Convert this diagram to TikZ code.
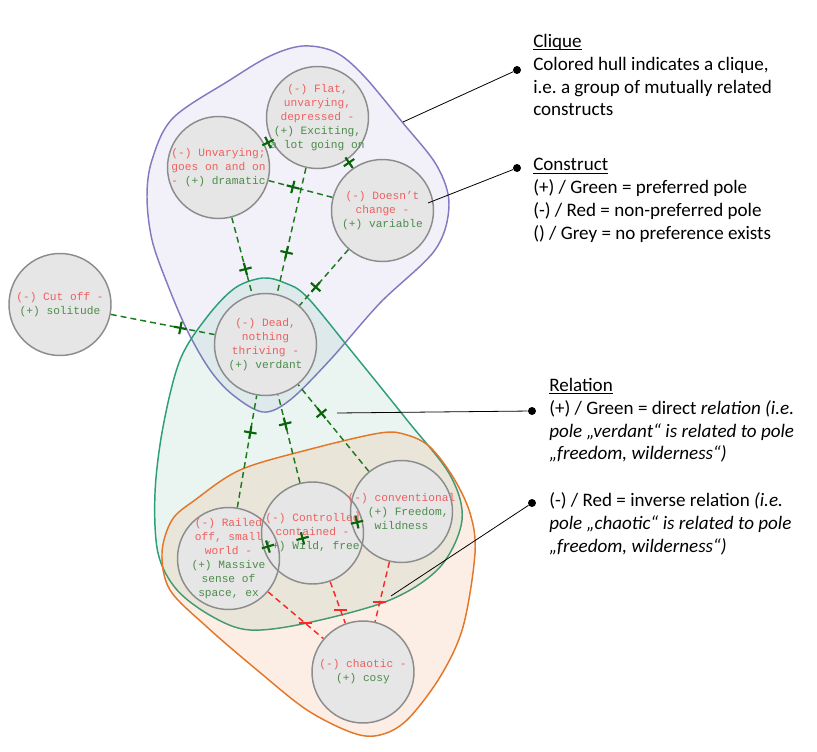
\documentclass[tikz,border=0pt]{standalone}
\usepackage{fontspec}
\setmainfont{Carlito}
\newfontfamily\cmono{Liberation Mono}
\usetikzlibrary{calc}
\pgfdeclarelayer{hulls}
\pgfdeclarelayer{edges}
\pgfdeclarelayer{outl}
\pgfdeclarelayer{txt}
\pgfdeclarelayer{marks}
\pgfsetlayers{hulls,edges,main,outl,txt,marks}

\definecolor{cfill}{RGB}{230,230,230}
\definecolor{cline}{RGB}{140,140,140}
\definecolor{tred}{RGB}{240,95,95}
\definecolor{tgreen}{RGB}{75,140,75}
\definecolor{egreen}{RGB}{30,120,30}
\definecolor{mgreen}{RGB}{10,100,10}
\definecolor{ered}{RGB}{250,40,40}
\definecolor{hpurple}{RGB}{130,122,192}
\definecolor{hgreen}{RGB}{45,158,122}
\definecolor{horange}{RGB}{228,118,40}

\newcommand\ulx[1]{\setbox0\hbox{#1}\rlap{\rule[-2pt]{\wd0}{0.8pt}}#1}
\newcommand\pplus{\makebox[0pt]{\rule[-4.75pt]{1.6pt}{9.5pt}}\makebox[0pt]{\rule[-0.8pt]{9.5pt}{1.6pt}}}
\newcommand\mminus{\rule[-0.8pt]{9.5pt}{1.6pt}}
\newcommand\rd[1]{\textcolor{tred}{#1}}
\newcommand\gr[1]{\textcolor{tgreen}{#1}}

\tikzset{
  construct/.style={circle, minimum size=76.5pt, inner sep=0pt, outer sep=0.55pt, fill=cfill},
  cout/.style={draw=cline, line width=1.1pt},
  ctext/.style={font=\cmono\fontsize{8.4pt}{10.5pt}\selectfont, align=center, inner sep=0pt},
  gedge/.style={draw=egreen, line width=1.1pt, dash pattern=on 4.5pt off 3pt},
  redge/.style={draw=ered, line width=1.1pt, dash pattern=on 4.5pt off 3pt},
  plusmark/.style={sloped, inner sep=0pt, text=mgreen, pos=0.67},
  minusmark/.style={inner sep=0pt, text=ered, pos=0.67},
  hull/.style={line width=1.1pt, fill opacity=0.1},
  legend/.style={font=\fontsize{14.3pt}{17pt}\selectfont, anchor=base west, inner sep=0pt},
  callout/.style={draw=black, line width=0.6pt},
  dot/.style={circle, fill=black, inner sep=0pt, minimum size=6pt}
}

\begin{document}
\frenchspacing
\begin{tikzpicture}[x=0.75pt,y=-0.75pt]
\useasboundingbox (0,0) rectangle (817,752);

% hulls
\begin{pgfonlayer}{hulls}
\draw[hull, draw=hpurple, fill=hpurple] plot[smooth cycle, tension=0.55] coordinates {
 (303,46) (335,52) (363,75) (403,123) (437,166) (449,205) (435,250) (380,303)
 (330,360) (290,400) (263,412) (233,395) (210,370) (187,330) (167,283) (152,240)
 (147,197) (152,160) (173,118) (230,80) (270,56)};
\draw[hull, draw=hgreen, fill=hgreen] plot[smooth cycle, tension=0.55] coordinates {
 (263,278) (285,283) (307,297) (353,353) (407,420) (450,475) (462,520) (440,567)
 (390,600) (307,623) (250,630) (213,617) (177,590) (158,553) (155,493) (163,427)
 (180,360) (207,317) (235,288)};
\draw[hull, draw=horange, fill=horange, fill opacity=0.12] plot[smooth cycle, tension=0.55] coordinates {
 (380,433) (407,435) (430,447) (453,477) (470,513) (475,553) (463,627) (440,677)
 (407,720) (380,735) (353,733) (307,710) (257,670) (207,627) (170,590) (162,553)
 (172,520) (195,500) (240,470) (307,450)};
\end{pgfonlayer}

% constructs
\node[construct] (flat) at (317.5,117.5) {};
\node[construct] (unvarying) at (218.5,167.5) {};
\node[construct] (dc) at (382.5,210.5) {};
\node[construct] (cutoff) at (60,304.5) {};
\node[construct] (dead) at (265.5,344.5) {};
\node[construct] (railed) at (228.5,558.5) {};
\node[construct] (controlled) at (312.5,533) {};
\node[construct] (conventional) at (401.5,511.5) {};
\node[construct] (chaotic) at (363,672) {};

\begin{pgfonlayer}{outl}
\foreach \n in {flat,unvarying,dc,cutoff,dead,railed,controlled,conventional,chaotic}
  \draw[cout] (\n.center) circle[radius=38.25pt];
\end{pgfonlayer}

\begin{pgfonlayer}{txt}
\node[ctext] (flat-t) at (flat) {\rd{(-) Flat,}\\\rd{unvarying,}\\\rd{depressed -}\\\gr{(+) Exciting,}\\\gr{a lot going on}};
\node[ctext] (unvarying-t) at (unvarying) {\rd{(-) Unvarying;}\\\rd{goes on and on}\\\rd{-} \gr{(+) dramatic}};
\node[ctext] (dc-t) at (dc) {\rd{(-) Doesn’t}\\\rd{change -}\\\gr{(+) variable}};
\node[ctext] (cutoff-t) at (cutoff) {\rd{(-) Cut off -}\\\gr{(+) solitude}};
\node[ctext] (dead-t) at (dead) {\rd{(-) Dead,}\\\rd{nothing}\\\rd{thriving -}\\\gr{(+) verdant}};
\node[ctext] (railed-t) at (railed) {\rd{(-) Railed}\\\rd{off, small}\\\rd{world -}\\\gr{(+) Massive}\\\gr{sense of}\\\gr{space, ex}};
\node[ctext] (controlled-t) at (controlled) {\rd{(-) Controlled}\\\rd{contained -}\\\gr{(+) Wild, free}};
\node[ctext] (conventional-t) at (conventional) {\rd{(-) conventional}\\\rd{-} \gr{(+) Freedom,}\\\gr{wildness}};
\node[ctext] (chaotic-t) at (chaotic) {\rd{(-) chaotic -}\\\gr{(+) cosy}};
\end{pgfonlayer}

% relations
\begin{pgfonlayer}{edges}
\draw[gedge] (unvarying) -- (flat);
\draw[gedge] (dc) -- (flat);
\draw[gedge] (dc) -- (unvarying);
\draw[gedge] (cutoff) -- (dead);
\draw[gedge] (flat) -- (dead);
\draw[gedge] (unvarying) -- (dead);
\draw[gedge] (dc) -- (dead);
\draw[gedge] (railed) -- (dead);
\draw[gedge] (controlled) -- (dead);
\draw[gedge] (conventional) -- (dead);
\draw[gedge] (railed) -- (controlled);
\draw[gedge] (controlled) -- (conventional);
\draw[gedge] (conventional) -- (railed);
\draw[redge] (railed) -- (chaotic);
\draw[redge] (controlled) -- (chaotic);
\draw[redge] (conventional) -- (chaotic);
\end{pgfonlayer}

\begin{pgfonlayer}{marks}
\path (unvarying) -- node[plusmark, pos=0.5] (m1) {\pplus} (flat);
\path (dc) -- node[plusmark] (m2) {\pplus} (flat);
\path (dc) -- node[plusmark, pos=0.62] (m3) {\pplus} (unvarying);
\path (cutoff) -- node[plusmark] (m4) {\pplus} (dead);
\path (flat) -- node[plusmark] (m5) {\pplus} (dead);
\path (unvarying) -- node[plusmark] (m6) {\pplus} (dead);
\path (dc) -- node[plusmark] (m7) {\pplus} (dead);
\path (railed) -- node[plusmark] (m8) {\pplus} (dead);
\path (controlled) -- node[plusmark] (m9) {\pplus} (dead);
\path (conventional) -- node[plusmark] (m10) {\pplus} (dead);
\path (railed) -- node[plusmark] (m11) {\pplus} (controlled);
\path (controlled) -- node[plusmark, pos=0.5] (m12) {\pplus} (conventional);
\path (conventional) -- node[plusmark] (m13) {\pplus} (railed);
\path (railed) -- node[minusmark] (m14) {\mminus} (chaotic);
\path (controlled) -- node[minusmark] (m15) {\mminus} (chaotic);
\path (conventional) -- node[minusmark] (m16) {\mminus} (chaotic);

% callouts
\node[dot] (dclique) at (517,70) {};
\node[dot] (dconstruct) at (517,168) {};
\node[dot] (drelation) at (532,411) {};
\node[dot] (dinverse) at (532,503) {};
\coordinate (eclique) at (403,122);
\coordinate (econstruct) at (428,203);
\coordinate (erelation) at (337,413);
\coordinate (einverse) at (391,596);
\draw[callout] (dclique) -- (eclique);
\draw[callout] (dconstruct) -- (econstruct);
\draw[callout] (drelation) -- (erelation);
\draw[callout] (dinverse) -- (einverse);
\end{pgfonlayer}

% legend
\node[legend] (l1) at (533,47.5) {\ulx{Clique}};
\node[legend] (l2) at (533,70.3) {Colored hull indicates a clique,};
\node[legend] (l3) at (533,93.1) {i.e. a group of mutually related};
\node[legend] (l4) at (533,115.9) {constructs};
\node[legend] (l5) at (533,171) {\ulx{Construct}};
\node[legend] (l6) at (533,193.8) {(+) / Green = preferred pole};
\node[legend] (l7) at (533,216.6) {(-) / Red = non-preferred pole};
\node[legend] (l8) at (533,239.4) {() / Grey = no preference exists};
\node[legend] (l9) at (549,391.5) {\ulx{Relation}};
\node[legend] (l10) at (549,414.3) {(+) / Green = direct \textit{relation (i.e.}};
\node[legend] (l11) at (549,437.1) {\textit{pole „verdant“ is related to pole}};
\node[legend] (l12) at (549,459.9) {\textit{„freedom, wilderness“)}};
\node[legend] (l13) at (549,506.5) {(-) / Red = inverse relation \textit{(i.e.}};
\node[legend] (l14) at (549,529.3) {\textit{pole „chaotic“ is related to pole}};
\node[legend] (l15) at (549,552.1) {\textit{„freedom, wilderness“)}};
\end{tikzpicture}
\end{document}
